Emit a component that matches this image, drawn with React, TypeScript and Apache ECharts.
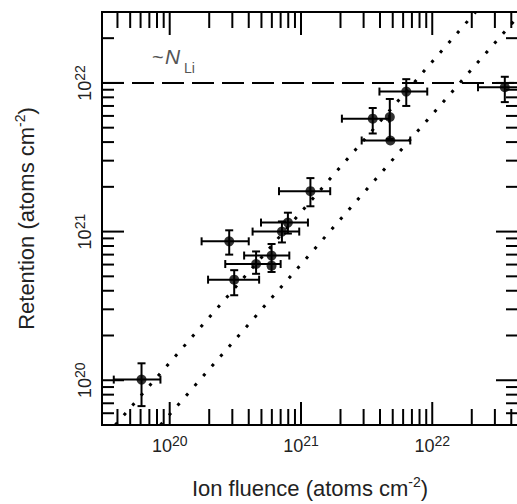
import React, { useEffect, useRef } from "react";
import * as echarts from "echarts";

// Axis extents (atoms cm^-2)
const X_MIN = 3.05e19;
const X_MAX = 4.5e22;
const Y_MIN = 5e19;
const Y_MAX = 3e22;

// Measured points: ion fluence, retention and their error limits
const fluence = [6.1e19, 2.84e20, 3.1e20, 4.55e20, 5.97e20, 5.97e20, 7.16e20, 7.95e20, 1.18e21, 3.52e21, 4.75e21, 4.8e21, 6.34e21, 3.57e22];
const retention = [1.01e20, 8.6e20, 4.75e20, 6.05e20, 6.9e20, 5.9e20, 1.0e21, 1.15e21, 1.87e21, 5.75e21, 5.9e21, 4.1e21, 8.75e21, 9.35e21];
const fluenceLow = [3.75e19, 1.75e20, 1.96e20, 2.65e20, 3.69e20, 5.97e20, 4.28e20, 4.96e20, 6.8e20, 2.05e21, 4.75e21, 2.9e21, 3.96e21, 2.23e22];
const fluenceHigh = [8.5e19, 4.0e20, 4.8e20, 7.0e20, 8.15e20, 5.97e20, 9.7e20, 1.13e21, 1.67e21, 4.7e21, 4.75e21, 6.8e21, 9.16e21, 5.7e22];
const retentionLow = [6.7e19, 7.0e20, 3.73e20, 5.2e20, 5.35e20, 5.9e20, 8.45e20, 9.7e20, 1.48e21, 4.57e21, 4.2e21, 4.1e21, 7.0e21, 7.43e21];
const retentionHigh = [1.3e20, 1.02e21, 5.5e20, 7.35e20, 8.25e20, 5.9e20, 1.17e21, 1.34e21, 2.29e21, 6.78e21, 7.8e21, 4.1e21, 1.06e22, 1.1e22];

// Guide lines (end points)
const upperFit = [[3.85e19, 5e19], [2.14e22, 3e22]];
const lowerFit = [[8.5e19, 5e19], [4.5e22, 2.8e22]];
const nLiLevel = [[3.05e19, 1e22], [4.5e22, 1e22]];

// Ticks
const xMajorTicks = [1e20, 1e21, 1e22];
const xMinorTicks = [4e19, 5e19, 6e19, 7e19, 8e19, 9e19, 2e20, 3e20, 4e20, 5e20, 6e20, 7e20, 8e20, 9e20, 2e21, 3e21, 4e21, 5e21, 6e21, 7e21, 8e21, 9e21, 2e22, 3e22, 4e22];
const yMajorTicks = [1e20, 1e21, 1e22];
const yMinorTicks = [6e19, 7e19, 8e19, 9e19, 2e20, 3e20, 4e20, 5e20, 6e20, 7e20, 8e20, 9e20, 2e21, 3e21, 4e21, 5e21, 6e21, 7e21, 8e21, 9e21, 2e22];
const decadeExponents = [20, 21, 22];

const FONT = "'Liberation Sans', Arial, Helvetica, sans-serif";
const TEXT = "#222";

function powerLabel(v: number): string {
  const e = Math.log10(v);
  const r = Math.round(e);
  if (Math.abs(e - r) > 1e-6 || decadeExponents.indexOf(r) < 0) return "";
  return "{b|10}{s|" + r + "}";
}

const labelRich = {
  b: { fontSize: 18, lineHeight: 24, fontFamily: FONT, color: TEXT },
  s: { fontSize: 14, verticalAlign: "top", fontFamily: FONT, color: TEXT },
};

const nameRich = {
  a: { fontSize: 22, lineHeight: 26, fontFamily: FONT, color: TEXT },
  s: { fontSize: 14, verticalAlign: "top", fontFamily: FONT, color: TEXT },
};

export default function App() {
  const ref = useRef<HTMLDivElement>(null);

  useEffect(() => {
    if (!ref.current) return;
    const chart = echarts.init(ref.current, undefined, { renderer: "svg" });

    const xTickData = [
      ...xMajorTicks.map((v) => [v, Y_MIN, 1]),
      ...xMinorTicks.map((v) => [v, Y_MIN, 0]),
    ];
    const yTickData = [
      ...yMajorTicks.map((v) => [X_MIN, v, 1]),
      ...yMinorTicks.map((v) => [X_MIN, v, 0]),
    ];
    const errData = fluence.map((x, i) => [
      x, retention[i], fluenceLow[i], fluenceHigh[i], retentionLow[i], retentionHigh[i],
    ]);
    const pts = fluence.map((x, i) => [x, retention[i]]);

    const stroke = { stroke: "#000", lineWidth: 2 };

    chart.setOption({
      animation: false,
      grid: {
        left: 102, top: 12, width: 416, height: 418,
        show: true, borderColor: "#000", borderWidth: 2, backgroundColor: "transparent",
      },
      xAxis: {
        type: "log", logBase: 10, min: X_MIN, max: X_MAX,
        axisLine: { show: false }, axisTick: { show: false }, splitLine: { show: false },
        minorTick: { show: false },
        axisLabel: {
          formatter: powerLabel, rich: labelRich, margin: 9,
          showMinLabel: false, showMaxLabel: false,
        },
        name: "{a|Ion fluence (atoms cm}{s|-2}{a|)}",
        nameLocation: "middle", nameGap: 50,
        nameTextStyle: { rich: nameRich },
      },
      yAxis: {
        type: "log", logBase: 10, min: Y_MIN, max: Y_MAX,
        axisLine: { show: false }, axisTick: { show: false }, splitLine: { show: false },
        minorTick: { show: false },
        axisLabel: {
          formatter: powerLabel, rich: labelRich, margin: 5, rotate: 90,
          showMinLabel: false, showMaxLabel: false,
        },
        name: "{a|Retention (atoms cm}{s|-2}{a|)}",
        nameLocation: "middle", nameGap: 63,
        nameTextStyle: { rich: nameRich },
      },
      graphic: [
        { type: "text", x: 152, y: 47, style: { text: "~", font: "20px " + FONT, fill: "#555", verticalAlign: "top" } },
        { type: "text", x: 165, y: 46, style: { text: "N", font: "italic 21px " + FONT, fill: "#555", verticalAlign: "top" } },
        { type: "text", x: 184, y: 61, style: { text: "Li", font: "14px " + FONT, fill: "#555", verticalAlign: "top" } },
      ],
      series: [
        {
          type: "line", data: upperFit, symbol: "none", silent: true,
          lineStyle: { color: "#000", width: 3, type: [3, 10] },
        },
        {
          type: "line", data: lowerFit, symbol: "none", silent: true,
          lineStyle: { color: "#000", width: 3, type: [3, 10] },
        },
        {
          type: "line", data: nLiLevel, symbol: "none", silent: true,
          lineStyle: { color: "#000", width: 2, type: [22, 8] },
        },
        {
          type: "custom", data: xTickData, silent: true,
          encode: { x: 0, y: 1 },
          renderItem: (params: any, api: any) => {
            const v = api.value(0);
            const len = api.value(2) ? 23 : 16;
            const b = api.coord([v, Y_MIN]);
            const t = api.coord([v, Y_MAX]);
            return {
              type: "group",
              children: [
                { type: "line", shape: { x1: b[0], y1: b[1], x2: b[0], y2: b[1] - len }, style: stroke },
                { type: "line", shape: { x1: t[0], y1: t[1], x2: t[0], y2: t[1] + len }, style: stroke },
              ],
            };
          },
        },
        {
          type: "custom", data: yTickData, silent: true,
          encode: { x: 0, y: 1 },
          renderItem: (params: any, api: any) => {
            const v = api.value(1);
            const len = api.value(2) ? 22 : 12;
            const l = api.coord([X_MIN, v]);
            const r = api.coord([X_MAX, v]);
            return {
              type: "group",
              children: [
                { type: "line", shape: { x1: l[0], y1: l[1], x2: l[0] + len, y2: l[1] }, style: stroke },
                { type: "line", shape: { x1: r[0], y1: r[1], x2: r[0] - len, y2: r[1] }, style: stroke },
              ],
            };
          },
        },
        {
          type: "custom", data: errData, silent: true,
          encode: { x: 0, y: 1 },
          renderItem: (params: any, api: any) => {
            const x = api.value(0), y = api.value(1);
            const xl = api.value(2), xh = api.value(3), yl = api.value(4), yh = api.value(5);
            const cap = 4;
            const children: any[] = [];
            if (xl !== xh) {
              const pL = api.coord([xl, y]);
              const pR = api.coord([xh, y]);
              children.push(
                { type: "line", shape: { x1: pL[0], y1: pL[1], x2: pR[0], y2: pR[1] }, style: stroke },
                { type: "line", shape: { x1: pL[0], y1: pL[1] - cap, x2: pL[0], y2: pL[1] + cap }, style: stroke },
                { type: "line", shape: { x1: pR[0], y1: pR[1] - cap, x2: pR[0], y2: pR[1] + cap }, style: stroke },
              );
            }
            if (yl !== yh) {
              const pB = api.coord([x, yl]);
              const pT = api.coord([x, yh]);
              children.push(
                { type: "line", shape: { x1: pB[0], y1: pB[1], x2: pT[0], y2: pT[1] }, style: stroke },
                { type: "line", shape: { x1: pB[0] - cap, y1: pB[1], x2: pB[0] + cap, y2: pB[1] }, style: stroke },
                { type: "line", shape: { x1: pT[0] - cap, y1: pT[1], x2: pT[0] + cap, y2: pT[1] }, style: stroke },
              );
            }
            return { type: "group", children };
          },
        },
        {
          type: "scatter", data: pts, symbol: "circle", symbolSize: 10, silent: true,
          itemStyle: { color: "#000" },
        },
      ],
    });

    return () => chart.dispose();
  }, []);

  return (
    <div style={{ position: "absolute", left: 0, top: 0, width: 517, height: 504, overflow: "hidden", background: "#fff" }}>
      <div ref={ref} style={{ width: 540, height: 504 }} />
    </div>
  );
}
